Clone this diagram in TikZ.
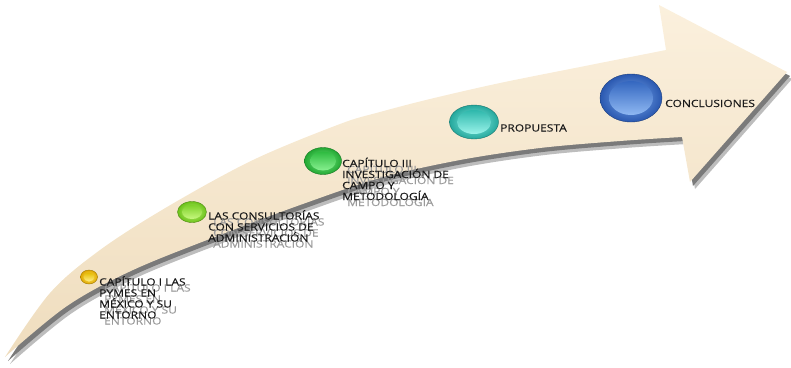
\documentclass[tikz,border=0pt]{standalone}
\usepackage{fontspec}
\usetikzlibrary{shapes.geometric}
\newfontfamily\lblfontfam[FakeStretch=1.2, FakeBold=0.35]{Open Sans}
\definecolor{creamtop}{HTML}{FBF0DD}
\definecolor{creambot}{HTML}{EFDDBE}
\definecolor{shadowdark}{HTML}{7A7A7A}
\definecolor{shadowlight}{HTML}{BDBDBD}
\definecolor{txt}{HTML}{1A1A1A}
\definecolor{ghosttxt}{HTML}{9A9A9A}
% button colours: light (centre), dark (rim), disc top, disc bottom
\definecolor{yL}{HTML}{FFE866}\definecolor{yD}{HTML}{E0A800}\definecolor{yT}{HTML}{E6BB00}\definecolor{yB}{HTML}{FFF08A}
\definecolor{lgL}{HTML}{C2F57A}\definecolor{lgD}{HTML}{6CC21A}\definecolor{lgT}{HTML}{7ED12A}\definecolor{lgB}{HTML}{C8F880}
\definecolor{gL}{HTML}{7CEB85}\definecolor{gD}{HTML}{22A833}\definecolor{gT}{HTML}{2EBB40}\definecolor{gB}{HTML}{88F090}
\definecolor{tL}{HTML}{8AF0E6}\definecolor{tD}{HTML}{25A89D}\definecolor{tT}{HTML}{2FB8AC}\definecolor{tB}{HTML}{9AF3EA}
\definecolor{bL}{HTML}{7FAEF0}\definecolor{bD}{HTML}{2A58B0}\definecolor{bT}{HTML}{3467C0}\definecolor{bB}{HTML}{8FB8F2}
\tikzset{
  lbl/.style={font=\lblfontfam\fontsize{10}{11}\selectfont, align=left, inner sep=0pt, anchor=base west, text=txt},
  ghost/.style={lbl, text=ghosttxt},
  btn/.style n args={4}{ellipse, draw=#2!70!black, line width=0.4pt, inner sep=0pt,
     minimum width=#3, minimum height=#4, inner color=#1, outer color=#2},
}
\newcommand\arrowpath{plot[smooth, tension=0.55] coordinates {(5,357) (50,293) (100,250) (167,207) (253,160) (340,124) (380,112) (430,99) (500,83) (580,67) (666,50)}
  -- (659,5) -- (787,72) -- (690,182) -- (682,137)
  -- plot[smooth, tension=0.55] coordinates {(682,137) (620,141) (540,148) (460,160) (380,178) (300,205) (220,235) (133,270) (67,306) (5,357)} -- cycle}
\begin{document}
\begin{tikzpicture}[x=1pt, y=-1pt]
\useasboundingbox (0,0) rectangle (791,367);
% arrow shadow
\fill[shadowlight, shift={(5,7)}] \arrowpath;
\fill[shadowdark, shift={(3,4)}] \arrowpath;
% arrow body
\shade[top color=creamtop, bottom color=creambot] \arrowpath;

% buttons
\node[btn={yL}{yD}{17pt}{14pt}] (b1) at (89,277) {};
\node[btn={lgL}{lgD}{29pt}{21pt}] (b2) at (192,212) {};
\node[btn={gL}{gD}{37pt}{27pt}] (b3) at (323,161) {};
\node[btn={tL}{tD}{49pt}{34pt}] (b4) at (474,122) {};
\node[btn={bL}{bD}{62pt}{48pt}] (b5) at (631,98) {};
% inner discs
\shade[top color=yT, bottom color=yB] (b1.center) ellipse [x radius=5.5, y radius=4.5];
\shade[top color=lgT, bottom color=lgB] (b2.center) ellipse [x radius=10, y radius=7];
\shade[top color=gT, bottom color=gB] (b3.center) ellipse [x radius=13, y radius=9.5];
\shade[top color=tT, bottom color=tB] (b4.center) ellipse [x radius=17, y radius=12];
\shade[top color=bT, bottom color=bB] (b5.center) ellipse [x radius=22, y radius=17];

% ghost (reflected) labels
\node[ghost] (g1) at (104,324.5) {CAPÍTULO I LAS\\PYMES EN\\MÉXICO Y SU\\ENTORNO};
\node[ghost] (g2) at (213,247.5) {LAS CONSULTORÍAS\\CON SERVICIOS DE\\ADMINISTRACIÓN};
\node[ghost] (g3) at (347,206) {CAPÍTULO III\\INVESTIGACIÓN DE\\CAMPO Y\\METODOLOGÍA};
% labels
\node[lbl] (t1) at (99,318.5) {CAPÍTULO I LAS\\PYMES EN\\MÉXICO Y SU\\ENTORNO};
\node[lbl] (t2) at (208,241.5) {LAS CONSULTORÍAS\\CON SERVICIOS DE\\ADMINISTRACIÓN};
\node[lbl] (t3) at (342,200) {CAPÍTULO III\\INVESTIGACIÓN DE\\CAMPO Y\\METODOLOGÍA};
\node[lbl] (t4) at (500,131.5) {PROPUESTA};
\node[lbl] (t5) at (665,107) {CONCLUSIONES};
\end{tikzpicture}
\end{document}
